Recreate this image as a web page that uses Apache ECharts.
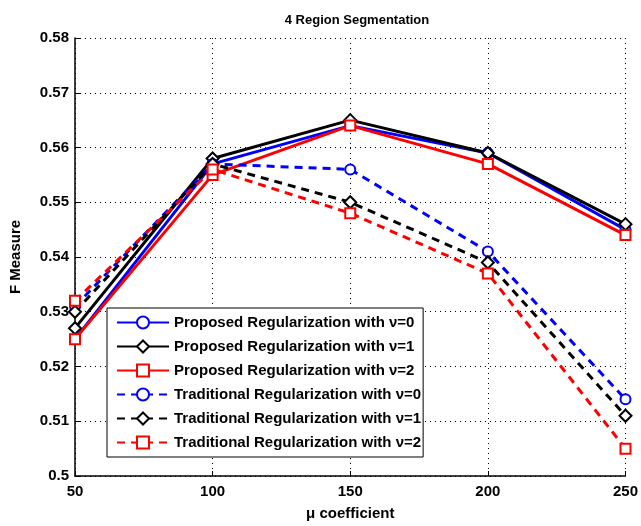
<!DOCTYPE html>
<html>
<head>
<meta charset="utf-8">
<script src="https://cdn.jsdelivr.net/npm/echarts@6/dist/echarts.min.js"></script>
<style>
  html, body { margin: 0; padding: 0; background: #fff; }
  #chart { width: 641px; height: 526px; }
</style>
</head>
<body>
<div id="chart"></div>
<script>
  // mu coefficient values on the x axis
  const muValues = [50, 100, 150, 200, 250];

  const proposedNu0 = [0.525, 0.557, 0.564, 0.559, 0.545];
  const proposedNu1 = [0.527, 0.558, 0.565, 0.559, 0.546];
  const proposedNu2 = [0.525, 0.555, 0.564, 0.557, 0.544];
  const traditionalNu0 = [0.531, 0.557, 0.556, 0.541, 0.514];
  const traditionalNu1 = [0.530, 0.557, 0.550, 0.539, 0.511];
  const traditionalNu2 = [0.532, 0.556, 0.548, 0.537, 0.505];

  const seriesNames = [
    'Proposed Regularization with \u03bd=0',
    'Proposed Regularization with \u03bd=1',
    'Proposed Regularization with \u03bd=2',
    'Traditional Regularization with \u03bd=0',
    'Traditional Regularization with \u03bd=1',
    'Traditional Regularization with \u03bd=2'
  ];

  const font = 'Liberation Sans, Arial, sans-serif';

  function makeSeries(name, values, color, symbol, dashed) {
    return {
      name: name,
      type: 'line',
      data: values.map((v, i) => [muValues[i], v]),
      symbol: symbol,
      symbolSize: symbol === 'emptyDiamond' ? 12 : 10,
      lineStyle: { color: color, width: 3, type: dashed ? [8, 6] : 'solid' },
      itemStyle: { color: color, borderColor: color, borderWidth: 2 },
      emphasis: { disabled: true }
    };
  }

  const chart = echarts.init(document.getElementById('chart'));
  chart.setOption({
    animation: false,
    backgroundColor: '#fff',
    title: {
      text: '4 Region Segmentation',
      left: 352, top: 9,
      textAlign: 'center',
      textStyle: { fontFamily: font, fontSize: 13, fontWeight: 'bold', color: '#000' }
    },
    grid: { left: 71, right: 10, top: 38, bottom: 48 },
    xAxis: {
      type: 'value', min: 50, max: 250, interval: 50,
      name: '\u03bc coefficient', nameLocation: 'middle', nameGap: 30,
      nameTextStyle: { fontFamily: font, fontSize: 15, fontWeight: 'bold', color: '#000' },
      axisLine: { lineStyle: { color: '#000', width: 1.5 } },
      axisTick: { inside: true, length: 5, lineStyle: { color: '#000' } },
      axisLabel: { fontFamily: font, fontSize: 15, fontWeight: 'bold', color: '#000', margin: 8 },
      splitLine: { show: true, lineStyle: { color: '#000', type: [1, 4], width: 1 } }
    },
    yAxis: {
      type: 'value', min: 0.5, max: 0.58, interval: 0.01,
      name: 'F Measure', nameLocation: 'middle', nameGap: 52,
      nameTextStyle: { fontFamily: font, fontSize: 15, fontWeight: 'bold', color: '#000' },
      axisLine: { show: true, lineStyle: { color: '#000', width: 1.5 } },
      axisTick: { show: true, inside: true, length: 5, lineStyle: { color: '#000' } },
      axisLabel: {
        fontFamily: font, fontSize: 15, fontWeight: 'bold', color: '#000', margin: 6,
        formatter: v => String(+v.toFixed(2))
      },
      splitLine: { show: true, lineStyle: { color: '#000', type: [1, 4], width: 1 } }
    },
    legend: {
      orient: 'vertical',
      left: 107, top: 308,
      data: seriesNames,
      backgroundColor: '#fff',
      borderColor: '#000', borderWidth: 1,
      padding: [7, 2, 7, 9],
      itemGap: 9,
      itemWidth: 52, itemHeight: 15,
      selectedMode: false,
      textStyle: { fontFamily: font, fontSize: 15, fontWeight: 'bold', color: '#000' }
    },
    series: [
      makeSeries(seriesNames[0], proposedNu0, '#0000ff', 'emptyCircle', false),
      makeSeries(seriesNames[1], proposedNu1, '#000000', 'emptyDiamond', false),
      makeSeries(seriesNames[2], proposedNu2, '#ff0000', 'emptyRect', false),
      makeSeries(seriesNames[3], traditionalNu0, '#0000ff', 'emptyCircle', true),
      makeSeries(seriesNames[4], traditionalNu1, '#000000', 'emptyDiamond', true),
      makeSeries(seriesNames[5], traditionalNu2, '#ff0000', 'emptyRect', true)
    ]
  });
</script>
</body>
</html>
